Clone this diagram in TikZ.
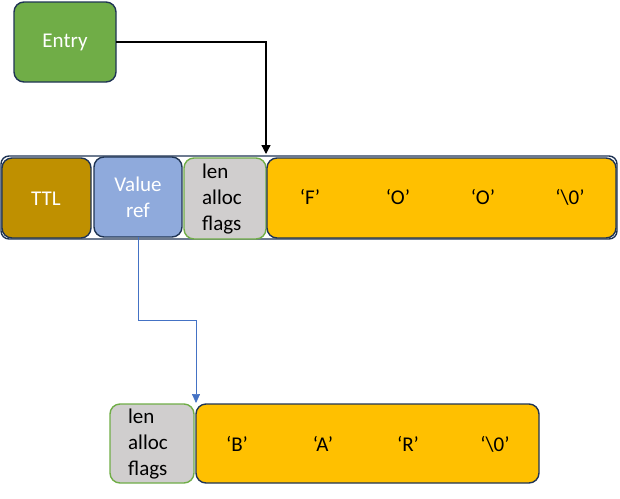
\documentclass[tikz,border=0pt]{standalone}
\usepackage{fontspec}
\setmainfont{Carlito}
\usetikzlibrary{arrows.meta}
\definecolor{navy}{HTML}{1F3454}
\definecolor{egreen}{HTML}{70AD47}
\definecolor{ttl}{HTML}{BF9000}
\definecolor{vref}{HTML}{8FAADC}
\definecolor{lgray}{HTML}{D0CECE}
\definecolor{ygold}{HTML}{FFC000}
\definecolor{lblue}{HTML}{4472C4}
\begin{document}
\begin{tikzpicture}[x=1pt,y=-1pt,
  box/.style={draw=navy,line width=1.4pt,rounded corners=10pt},
  lbl/.style={font=\fontsize{21}{21}\selectfont},
  wl/.style={lbl,text=white},
  ml/.style={font=\fontsize{21}{26}\selectfont,align=left,anchor=center}]
\useasboundingbox (0,0) rectangle (620,498);
% Entry
\draw[box,fill=egreen] (14,2) rectangle (116,82);
\node[wl] (entry) at (65,42) {Entry};
\coordinate (entryR) at (116,42);
% outer container
\draw[box,fill=white,rounded corners=8pt] (1,156) rectangle (617,239);
\coordinate (top) at (266,154);
% TTL
\draw[box,fill=ttl] (2,158) rectangle (91,238);
\node[wl] (ttl) at (46,199) {TTL};
% Value ref
\draw[box,fill=vref] (94,157) rectangle (182,237);
\node[wl,align=center,font=\fontsize{21}{26}\selectfont] (vref) at (138,197) {Value\\ref};
\coordinate (vrefB) at (138,237);
% len alloc flags
\draw[box,draw=egreen,fill=lgray] (184,158) rectangle (266,239);
\node[ml] (laf1) at (222,199) {len\\alloc\\flags};
% yellow
\draw[box,fill=ygold] (267,158) rectangle (616,238);
\node[lbl] (f) at (310,197) {‘F’};
\node[lbl] (o1) at (398,197) {‘O’};
\node[lbl] (o2) at (483,197) {‘O’};
\node[lbl] (z1) at (570,197) {‘\textbackslash0’};
% bottom
\draw[box,draw=egreen,fill=lgray] (110,404) rectangle (194,483);
\node[ml] (laf2) at (148,444) {len\\alloc\\flags};
\coordinate (botT) at (196,403);
\draw[box,fill=ygold] (196,404) rectangle (539,483);
\node[lbl] (b) at (237,444) {‘B’};
\node[lbl] (a) at (323,444) {‘A’};
\node[lbl] (r) at (408,444) {‘R’};
\node[lbl] (z2) at (495,444) {‘\textbackslash0’};
% connectors
\draw[line width=1.3pt,-{Triangle[length=9pt,width=9pt]}] (entryR) -| (top);
\draw[lblue,line width=0.7pt,-{Triangle[length=9pt,width=8pt]}] (vrefB) |- (196,320) -- (botT);
\end{tikzpicture}
\end{document}
